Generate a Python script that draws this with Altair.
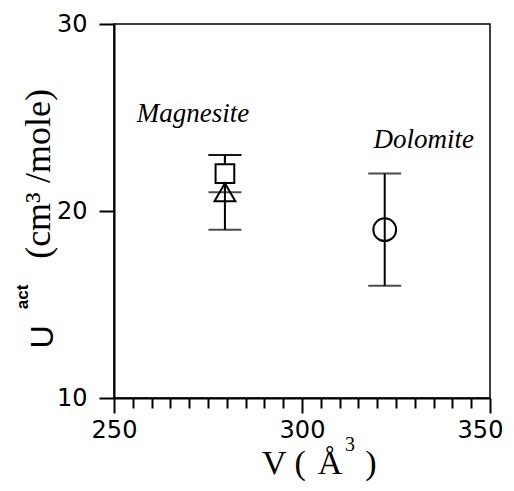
import altair as alt
import pandas as pd

# ---- data ----
marker = ["square", "triangle", "circle"]
mineral = ["Magnesite", "Magnesite", "Dolomite"]
volume = [279.5, 279.5, 322.0]
u_act = [22.0, 21.0, 19.0]
u_low = [21.0, 19.0, 16.0]
u_high = [23.0, 23.0, 22.0]

label_text = ["Magnesite", "Dolomite"]
label_x = [271.0, 332.4]
label_y = [24.75, 23.35]

x_ticks = list(range(250, 351, 5))
y_ticks = [10, 20, 30]

df = pd.DataFrame({"marker": marker, "mineral": mineral, "V": volume,
                   "U": u_act, "lo": u_low, "hi": u_high})
lab = pd.DataFrame({"text": label_text, "V": label_x, "U": label_y})

xscale = alt.Scale(domain=[250, 350], nice=False, zero=False)
yscale = alt.Scale(domain=[10, 30], nice=False, zero=False)

xaxis = alt.Axis(values=x_ticks, tickCount=40, title=None, grid=False,
                 labelExpr="datum.value % 50 === 0 ? datum.label : ''",
                 tickSize={"condition": {"test": "datum.value % 50 === 0", "value": 15}, "value": 10},
                 labelOffset={"condition": {"test": "datum.value >= 350", "value": -10}, "value": 0},
                 labelFont="DejaVu Sans", labelFontSize=24, labelColor="black",
                 labelPadding=5, labelFlush=False, labelOverlap=False,
                 domainColor="black", domainWidth=2, tickColor="black", tickWidth=2)
yaxis = alt.Axis(values=y_ticks, tickCount=10, title=None, grid=False, tickSize=15,
                 labelFont="DejaVu Sans", labelFontSize=24, labelColor="black",
                 labelPadding=12, labelFlush=False, labelOverlap=False,
                 domainColor="black", domainWidth=2, tickColor="black", tickWidth=2)

base = alt.Chart(df)

rules = base.mark_rule(color="black", strokeWidth=2).encode(
    x=alt.X("V:Q", scale=xscale, axis=xaxis),
    y=alt.Y("lo:Q", scale=yscale, axis=yaxis),
    y2="hi:Q",
)
caps_lo = base.mark_tick(color="black", thickness=2, size=33, orient="horizontal").encode(
    x=alt.X("V:Q"), y=alt.Y("lo:Q"))
caps_hi = base.mark_tick(color="black", thickness=2, size=33, orient="horizontal").encode(
    x=alt.X("V:Q"), y=alt.Y("hi:Q"))

points = base.mark_point(stroke="black", strokeWidth=2, opacity=1).encode(
    x=alt.X("V:Q"), y=alt.Y("U:Q"),
    shape=alt.Shape("marker:N", legend=None,
                    scale=alt.Scale(domain=["square", "triangle", "circle"],
                                    range=["square", "triangle-up", "circle"])),
    size=alt.Size("marker:N", legend=None,
                  scale=alt.Scale(domain=["square", "triangle", "circle"],
                                  range=[350, 520, 345])),
    fill=alt.Fill("marker:N", legend=None,
                  scale=alt.Scale(domain=["square", "triangle", "circle"],
                                  range=["white", "transparent", "transparent"])),
)

labels = alt.Chart(lab).mark_text(font="Liberation Serif", fontStyle="italic",
                                  fontSize=27, align="center", baseline="alphabetic",
                                  color="black").encode(
    x=alt.X("V:Q"), y=alt.Y("U:Q"), text="text:N")

one = pd.DataFrame({"a": [0]})


def txt(s, x, y, **kw):
    return alt.Chart(one).mark_text(text=s, color="black", **kw).encode(
        x=alt.value(x), y=alt.value(y))


ytitle_u = txt("U", -61, 313, angle=270, font="Liberation Sans", fontSize=32,
               align="center", baseline="alphabetic")
ytitle_act = txt("act", -86, 273, angle=270, font="Liberation Sans", fontSize=17,
                 fontWeight="bold", align="center", baseline="alphabetic")
ytitle_unit = txt("(cm\u00b3  /mole)", -64, 150, angle=270, font="Liberation Serif",
                  fontSize=36, align="center", baseline="alphabetic")

xt_v = txt("V (", 148, 450, font="Liberation Serif", fontSize=34, align="left",
           baseline="alphabetic")
xt_a = txt("\u00c5", 216, 450, font="Liberation Serif", fontSize=34, align="center",
           baseline="alphabetic")
xt_3 = txt("3", 236, 427, font="Liberation Serif", fontSize=20, align="center",
           baseline="alphabetic")
xt_p = txt(")", 257, 450, font="Liberation Serif", fontSize=34, align="center",
           baseline="alphabetic")

chart = alt.layer(
    rules, caps_lo, caps_hi, points, labels,
    ytitle_u, ytitle_act, ytitle_unit, xt_v, xt_a, xt_3, xt_p,
).properties(
    width=376, height=374,
    autosize=alt.AutoSizeParams(type="none"),
    padding={"left": 106, "top": 16, "right": 16, "bottom": 84},
    background="white",
).configure_view(stroke="black", strokeWidth=1.5)

chart.save("out.html", embed_options={"renderer": "svg", "actions": False})
